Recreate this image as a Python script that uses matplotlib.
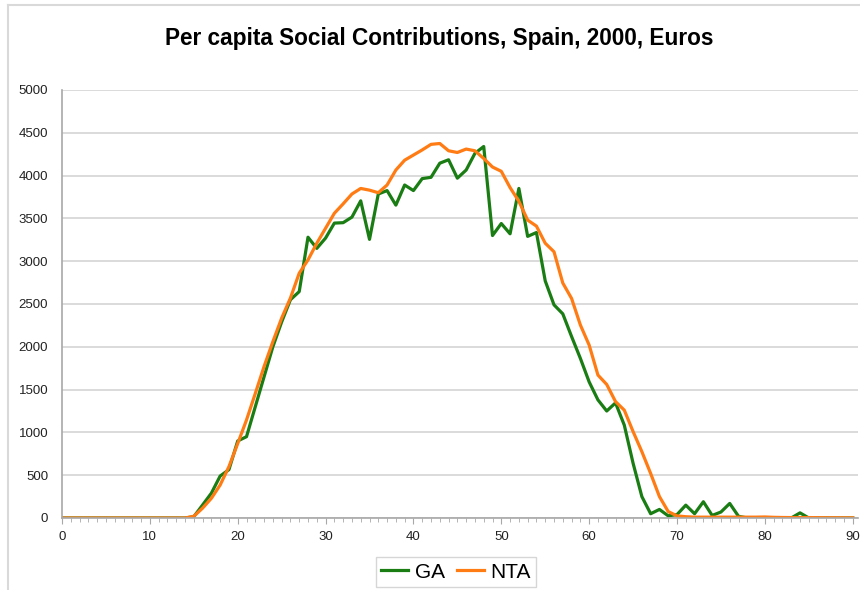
import numpy as np
import matplotlib.pyplot as plt
from matplotlib.lines import Line2D

plt.rcParams['font.family'] = ['Liberation Sans', 'DejaVu Sans']

# Ages 0..90
ages = list(range(91))

# Per capita social contributions, GA series
ga = [0] * 15 + [
    15, 152, 290, 490, 565, 900, 950, 1300, 1650, 2000,      # 15-24
    2290, 2550, 2645, 3280, 3150, 3270, 3445, 3450, 3515, 3705,  # 25-34
    3255, 3785, 3825, 3655, 3890, 3825, 3965, 3980, 4145, 4185,  # 35-44
    3970, 4065, 4260, 4340, 3300, 3440, 3320, 3850, 3290, 3335,  # 45-54
    2770, 2490, 2385, 2120, 1865, 1590, 1380, 1250, 1345, 1085,  # 55-64
    640, 250, 50, 100, 25, 40, 150, 50, 190, 30,               # 65-74
    70, 170, 20, 0, 0, 0, 0, 0, 0, 60,                         # 75-84
    0, 0, 0, 0, 0, 0,                                          # 85-90
]

# NTA series
nta = [0] * 15 + [
    20, 115, 230, 385, 600, 870, 1145, 1455, 1770, 2060,       # 15-24
    2335, 2570, 2860, 3015, 3210, 3385, 3560, 3670, 3785, 3850,  # 25-34
    3830, 3800, 3890, 4065, 4180, 4240, 4300, 4365, 4375, 4290,  # 35-44
    4270, 4310, 4290, 4200, 4100, 4050, 3860, 3700, 3480, 3410,  # 45-54
    3210, 3110, 2745, 2565, 2255, 2020, 1670, 1560, 1360, 1260,  # 55-64
    1010, 775, 520, 250, 75, 25, 15, 10, 10, 10,               # 65-74
    10, 10, 10, 10, 10, 12, 8, 6, 5, 5,                        # 75-84
    5, 4, 3, 3, 2, 2,                                          # 85-90
]

fig = plt.figure(figsize=(8.6, 5.9), dpi=100)
ax = fig.add_axes([62 / 860, 72 / 590, 796 / 860, 428 / 590])

ax.plot(ages, ga, color='#1a7d14', lw=2.3, label='GA', solid_joinstyle='round')
ax.plot(ages, nta, color='#ff7b14', lw=2.3, label='NTA', solid_joinstyle='round')

ax.set_xlim(0, 90.6)
ax.set_ylim(0, 5000)
ax.set_yticks(range(0, 5001, 500))
ax.set_xticks(range(0, 91, 10))
ax.set_xticks(range(0, 91, 1), minor=True)
ax.grid(axis='y', color='#d4d4d4', lw=1.2)
ax.set_axisbelow(True)

for s in ['top', 'right']:
    ax.spines[s].set_visible(False)
ax.spines['left'].set_color('#a8a8a8')
ax.spines['bottom'].set_color('#a8a8a8')
ax.spines['left'].set_linewidth(1.2)
ax.spines['bottom'].set_linewidth(1.2)

ax.tick_params(axis='y', length=0, pad=10, labelsize=9.5, labelcolor='#222222')
ax.tick_params(axis='x', which='major', length=4, color='#a8a8a8', pad=5,
               labelsize=9.5, labelcolor='#222222')
ax.tick_params(axis='x', which='minor', length=3, color='#a8a8a8')

fig.text(0.511, 0.935, 'Per capita Social Contributions, Spain, 2000, Euros',
         ha='center', va='center', fontsize=16.3, fontweight='bold')

fig.legend(loc='center', bbox_to_anchor=(456 / 860, 1 - 572 / 590), ncol=2,
           fontsize=15, handlelength=1.3, handletextpad=0.3, columnspacing=0.6,
           frameon=True, fancybox=False, edgecolor='#cccccc',
           borderpad=0.25, borderaxespad=0)

# thin frame at the left and top of the chart area
fig.add_artist(Line2D([8 / 860, 8 / 860], [0, 1 - 5 / 590], color='#d9d9d9', lw=1.5,
                      transform=fig.transFigure))
fig.add_artist(Line2D([8 / 860, 1], [1 - 5 / 590, 1 - 5 / 590], color='#d9d9d9', lw=1.5,
                      transform=fig.transFigure))

plt.savefig('out.png', dpi=100)
